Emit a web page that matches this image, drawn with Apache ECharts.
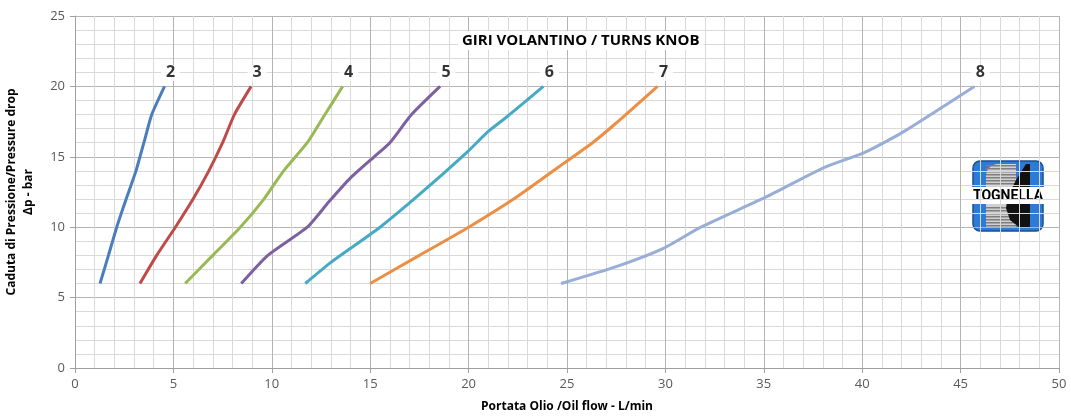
<!DOCTYPE html>
<html>
<head>
<meta charset="utf-8">
<script src="https://cdn.jsdelivr.net/npm/echarts@6/dist/echarts.min.js"></script>
<style>html,body{margin:0;padding:0;background:#fff}#c{width:1071px;height:420px}</style>
</head>
<body>
<div id="c"></div>
<script>
// Data (x = flow L/min, y = pressure drop bar)
const turns = ['2', '3', '4', '5', '6', '7', '8'];
const s2 = [[1.27,6],[1.7,8],[2.12,10],[2.6,12],[3.1,14],[3.3,15],[3.5,16],[3.9,18],[4.55,20]];
const s3 = [[3.3,6],[4.15,8],[5.1,10],[6.0,12],[6.8,14],[7.5,16],[8.1,18],[8.95,20]];
const s4 = [[5.6,6],[7.0,8],[8.4,10],[9.6,12],[10.6,14],[11.8,16],[12.7,18],[13.6,20]];
const s5 = [[8.45,6],[9.8,8],[11.8,10],[12.9,11.8],[14.0,13.5],[15.2,15],[16.0,16],[17.1,18],[18.55,20]];
const s6 = [[11.7,6],[13.0,7.5],[14.0,8.5],[15.5,10],[17.4,12.2],[19.9,15.3],[21.0,16.8],[22.0,17.9],[23.8,20]];
const s7 = [[15.0,6],[17.5,8],[20.0,10],[22.5,12.2],[24.8,14.5],[26.3,16],[27.5,17.4],[29.6,20]];
const s8 = [[24.7,6],[27.5,7.2],[29.9,8.5],[31.8,10],[35.2,12.2],[38.0,14.2],[40.1,15.3],[42.0,16.7],[45.7,20]];
const seriesData = [s2, s3, s4, s5, s6, s7, s8];
const colors = ['#4A7EBB', '#BE4B48', '#98B954', '#7D60A0', '#46AAC5', '#EC8E43', '#98AED6'];
const xTicks = [0, 5, 10, 15, 20, 25, 30, 35, 40, 45, 50];
const yTicks = [0, 5, 10, 15, 20, 25];

const FONT = 'Open Sans';
const chart = echarts.init(document.getElementById('c'), null, {renderer: 'canvas'});

const series = seriesData.map((d, i) => ({
  type: 'line',
  name: turns[i],
  smooth: 0.2,
  showSymbol: false,
  symbol: 'none',
  lineStyle: {color: colors[i], width: 3},
  itemStyle: {color: colors[i]},
  z: 3,
  data: d
}));

series.push({
  type: 'scatter',
  name: 'labels',
  symbolSize: 1,
  itemStyle: {color: 'rgba(0,0,0,0)'},
  silent: true,
  z: 5,
  data: seriesData.map((d, i) => ({value: d[d.length - 1], name: turns[i]})),
  label: {
    show: true, formatter: p => p.name, position: 'top', distance: 5, offset: [6, 0],
    fontFamily: FONT, fontWeight: 'bold', fontSize: 16, color: '#000',
    backgroundColor: '#fff', padding: [0, 5]
  }
});

// logo stripes (decorative)
const stripes = [];
for (let y = 7; y < 70; y += 3) {
  if (y > 27 && y < 47) continue;
  stripes.push({type: 'rect', shape: {x: 16, y: y, width: 30, height: 1.5}, style: {fill: '#7E7E7E'}});
}

chart.setOption({
  animation: false,
  backgroundColor: '#fff',
  grid: {left: 75, right: 12, top: 16, bottom: 52, outerBoundsMode: 'none'},
  title: {
    text: 'GIRI VOLANTINO / TURNS KNOB',
    left: 458, top: 31,
    padding: [2, 4],
    backgroundColor: '#fff',
    textStyle: {fontFamily: FONT, fontWeight: 'bold', fontSize: 15, color: '#000'}
  },
  xAxis: {
    type: 'value', min: xTicks[0], max: xTicks[xTicks.length - 1], interval: 5,
    name: 'Portata Olio /Oil flow - L/min', nameLocation: 'middle', nameGap: 33,
    nameTextStyle: {fontFamily: FONT, fontWeight: 'bold', fontSize: 12, color: '#000'},
    axisLine: {show: true, lineStyle: {color: '#A0A0A0'}},
    axisTick: {show: true, length: 5, lineStyle: {color: '#A0A0A0'}},
    minorTick: {show: false, splitNumber: 5},
    axisLabel: {fontFamily: FONT, fontSize: 13, color: '#595959', margin: 10},
    splitLine: {show: true, lineStyle: {color: '#B4B4B4', width: 1}},
    minorSplitLine: {show: true, lineStyle: {color: '#D9D9D9', width: 1}}
  },
  yAxis: {
    type: 'value', min: yTicks[0], max: yTicks[yTicks.length - 1], interval: 5,
    name: 'Caduta di Pressione/Pressure drop\nΔp - bar', nameLocation: 'middle', nameGap: 38,
    nameTextStyle: {fontFamily: FONT, fontWeight: 'bold', fontSize: 12, color: '#000', lineHeight: 17},
    axisLine: {show: true, lineStyle: {color: '#A0A0A0'}},
    axisTick: {show: true, length: 5, lineStyle: {color: '#A0A0A0'}},
    minorTick: {show: false, splitNumber: 5},
    axisLabel: {fontFamily: FONT, fontSize: 13, color: '#595959', margin: 10},
    splitLine: {show: true, lineStyle: {color: '#B4B4B4', width: 1}},
    minorSplitLine: {show: true, lineStyle: {color: '#D9D9D9', width: 1}}
  },
  graphic: [{
    type: 'group', left: 970, top: 158, z: 10,
    children: [
      {type: 'rect', shape: {x: 0, y: 0, width: 76, height: 76, r: 8}, style: {fill: '#fff'}},
      {type: 'rect', shape: {x: 3, y: 3, width: 70, height: 70, r: 7}, style: {fill: '#2C7BD6', stroke: '#1B4F8E', lineWidth: 1.5}},
      {type: 'rect', shape: {x: 16, y: 6, width: 30, height: 64, r: [12, 0, 0, 0]}, style: {fill: '#D0D0D0'}}
    ].concat(stripes).concat([
      {type: 'polygon', shape: {points: [[56, 6], [60, 6], [60, 70], [50, 70], [40, 62], [36, 50], [38, 38], [46, 22]]}, style: {fill: '#111'}},
      {type: 'rect', shape: {x: 1, y: 29, width: 74, height: 17}, style: {fill: '#fff'}},
      {type: 'text', x: 38, y: 38, style: {text: 'TOGNELLA', fontFamily: 'Liberation Sans Narrow, Roboto', fontWeight: 'bold', fontSize: 14, fill: '#000', align: 'center', verticalAlign: 'middle'}}
    ])
  }],
  series: series
});
</script>
</body>
</html>
